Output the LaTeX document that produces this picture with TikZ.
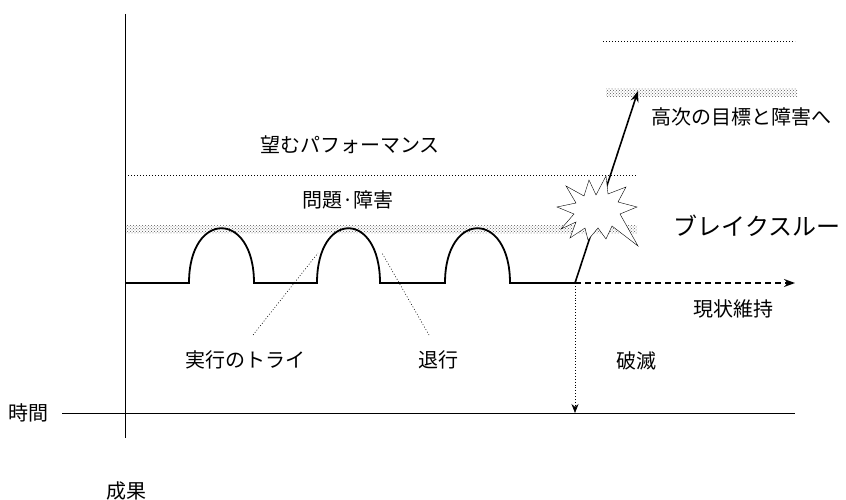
\documentclass[tikz,border=0pt]{standalone}
\usepackage{fontspec}
\setmainfont{Noto Sans CJK JP}
\usetikzlibrary{arrows,arrows.meta,patterns}

\begin{document}
\begin{tikzpicture}[x=1pt,y=-1pt,>={Stealth[length=11pt,width=8pt]},semithick,
                    font=\fontsize{20}{24}\selectfont]
  \tikzstyle{goal}=[line width=0.6pt,dash pattern=on 0.9pt off 2.1pt]
  \tikzstyle{barrier}=[pattern=crosshatch dots,pattern color=black!65,draw=none]
  \tikzstyle{trend}=[line width=1.8pt]
  \tikzstyle{hint}=[line width=0.6pt,dash pattern=on 0.9pt off 2pt]

  \useasboundingbox (0,0) rectangle (846,500);

  % axes
  \node (time) at (29,413) {時間};
  \node (result) at (126,491) {成果};
  \coordinate (tl) at (62,413);
  \coordinate (tr) at (795,413);
  \coordinate (rt) at (125,14);
  \coordinate (rb) at (125,438);
  \draw[thin] (tl) -- (tr);
  \draw[thin] (rt) -- (rb);

  % goals and barriers
  \draw[goal] (125,175) -- (637,175);
  \fill[barrier] (125,225) rectangle (637,233);
  \draw[goal] (603,41) -- (795,41);
  \fill[barrier] (606,89) rectangle (797,97);
  \node (want) at (350,145) {望むパフォーマンス};
  \node (prob) at (348,200) {問題·障害};
  \node (higher) at (741,117) {高次の目標と障害へ};

  % tries
  \draw[trend] (125,283) -- (189,283) .. controls (189,210) and (254,210) .. (254,283)
        -- (317,283) .. controls (317,210) and (380,210) .. (380,283)
        -- (445,283) .. controls (445,210) and (510,210) .. (510,283)
        -- (575,283) coordinate (split);

  \node (try) at (245,360) {実行のトライ};
  \node (back) at (438,360) {退行};
  \coordinate (try1) at (253,335);
  \coordinate (try2) at (318,253);
  \coordinate (back1) at (429,335);
  \coordinate (back2) at (382,253);
  \draw[hint] (try1) -- (try2);
  \draw[hint] (back1) -- (back2);

  % outcomes
  \coordinate (up) at (638,91);
  \coordinate (keep) at (795,283);
  \coordinate (down) at (575,413);
  \draw[->,line width=1.6pt] (split) -- (up);
  \draw[->,line width=1.3pt,dash pattern=on 6pt off 4pt] (split) -- (keep);
  \draw[-{Stealth[length=9pt,width=7pt]},hint] (split) -- (down);

  % burst
  \draw[thin,fill=white] (557,207) -- (576,203) -- (566,186) -- (584,196) -- (589,180)
        -- (596,195) -- (606,176) -- (608,194) -- (626,187) -- (618,202) -- (637,207)
        -- (620,214) -- (638,246) -- (612,226) -- (606,239) -- (598,228) -- (588,240)
        -- (585,228) -- (570,238) -- (576,222) -- (561,229) -- (574,214) -- cycle;

  \node[inner sep=0pt] (bt) at (757,226) {\fontsize{24}{28}\selectfont ブレイクスルー};
  \node (stay) at (733,309) {現状維持};
  \node (ruin) at (636,361) {破滅};
\end{tikzpicture}
\end{document}
